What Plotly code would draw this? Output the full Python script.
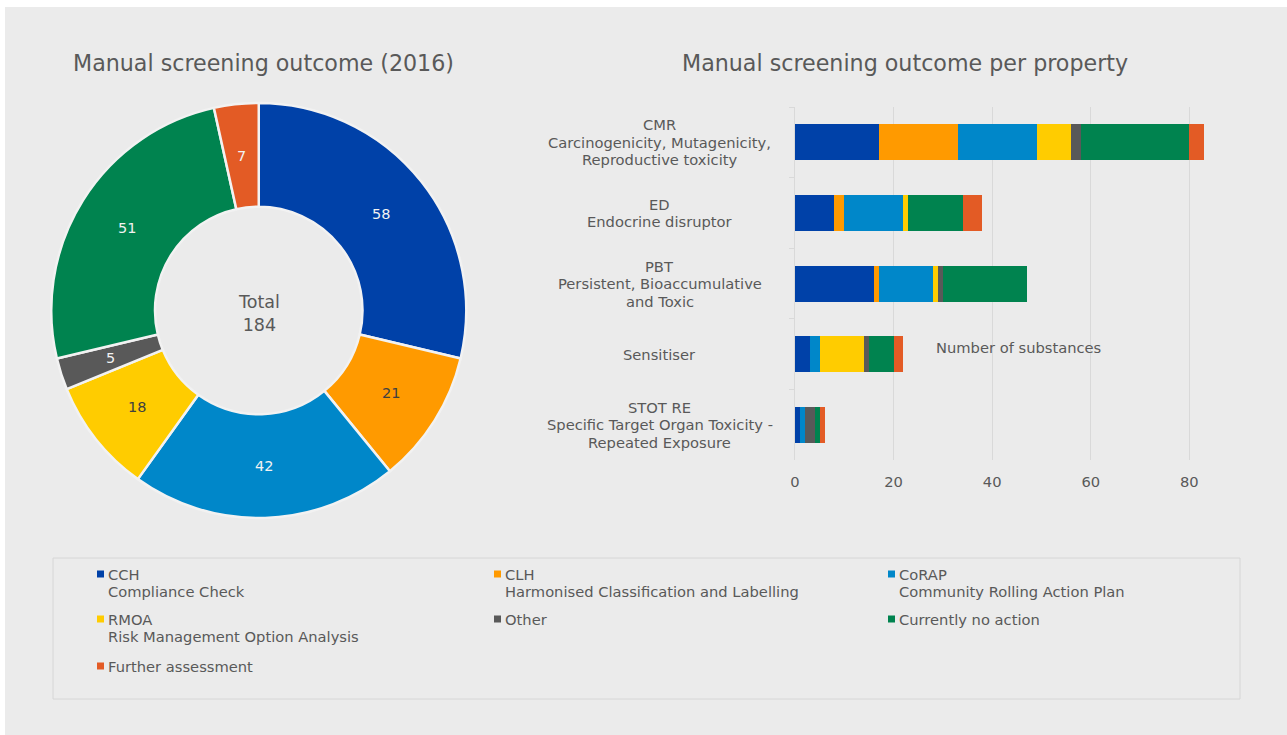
import math
import plotly.graph_objects as go

# Outcome categories (shared by the donut and the stacked bars)
outcome_codes = ["CCH", "CLH", "CoRAP", "RMOA", "Other", "Currently no action", "Further assessment"]
outcome_desc = [
    "Compliance Check",
    "Harmonised Classification and Labelling",
    "Community Rolling Action Plan",
    "Risk Management Option Analysis",
    "",
    "",
    "",
]
outcome_colors = ["#0041A8", "#FF9A00", "#0087C9", "#FFCC00", "#595959", "#00834F", "#E35B25"]

# Donut: overall outcome counts
outcome_totals = [58, 21, 42, 18, 5, 51, 7]
total_label = "Total<br>184"
pie_text_colors = ["#F2F2F2", "#404040", "#F2F2F2", "#404040", "#F2F2F2", "#F2F2F2", "#F2F2F2"]

# Bars: outcome per property
properties = ["CMR", "ED", "PBT", "Sensitiser", "STOT RE"]
property_desc = [
    ["Carcinogenicity, Mutagenicity,", "Reproductive toxicity"],
    ["Endocrine disruptor"],
    ["Persistent, Bioaccumulative", "and Toxic"],
    [],
    ["Specific Target Organ Toxicity -", "Repeated Exposure"],
]
cch = [17, 8, 16, 3, 1]
clh = [16, 2, 1, 0, 0]
corap = [16, 12, 11, 2, 1]
rmoa = [7, 1, 1, 9, 0]
other = [2, 0, 1, 1, 2]
no_action = [22, 11, 17, 5, 1]
further = [3, 4, 0, 2, 1]
bar_series = [cch, clh, corap, rmoa, other, no_action, further]
x_ticks = [0, 20, 40, 60, 80]

W, H = 1287, 735
TXT = "#595959"
FONT = "DejaVu Sans"
SMALL = 14.7
LINE = 17.5

# donut geometry (pixels)
PIE_L, PIE_R, PIE_T, PIE_B = 49, 468.5, 103, 518
HOLE = 0.5


def px(x):
    return x / W


def py(y):
    return 1 - y / H


fig = go.Figure()

fig.add_trace(go.Pie(
    labels=outcome_codes,
    values=outcome_totals,
    hole=HOLE,
    sort=False,
    direction="clockwise",
    rotation=0,
    marker=dict(colors=outcome_colors, line=dict(color="#F2F2F2", width=2.5)),
    textinfo="none",
    domain=dict(x=[px(PIE_L), px(PIE_R)], y=[py(PIE_B), py(PIE_T)]),
    showlegend=False,
    hoverinfo="label+value",
))

for code, vals, col in zip(outcome_codes, bar_series, outcome_colors):
    fig.add_trace(go.Bar(
        y=properties,
        x=vals,
        orientation="h",
        name=code,
        marker=dict(color=col, line=dict(width=0)),
        showlegend=False,
        xaxis="x",
        yaxis="y",
    ))

annotations = [
    dict(text="Manual screening outcome (2016)", x=px(263.5), y=py(63), xref="paper", yref="paper",
         showarrow=False, xanchor="center", yanchor="middle", font=dict(family=FONT, size=22.2, color=TXT)),
    dict(text="Manual screening outcome per property", x=px(904.5), y=py(63), xref="paper", yref="paper",
         showarrow=False, xanchor="center", yanchor="middle", font=dict(family=FONT, size=22.2, color=TXT)),
    dict(text=total_label, x=px(258.7), y=py(313), xref="paper", yref="paper",
         showarrow=False, xanchor="center", yanchor="middle", font=dict(family=FONT, size=17.5, color=TXT)),
    dict(text="Number of substances", x=px(934), y=py(347), xref="paper", yref="paper",
         showarrow=False, xanchor="left", yanchor="middle", font=dict(family=FONT, size=SMALL, color=TXT)),
]

# Slice value labels, centred in the ring at each slice's mid-angle
cx, cy = (PIE_L + PIE_R) / 2, (PIE_T + PIE_B) / 2
radius = min(PIE_R - PIE_L, PIE_B - PIE_T) / 2
r_mid = radius * (1 + HOLE) / 2
grand = sum(outcome_totals)
cum = 0
for v, tc in zip(outcome_totals, pie_text_colors):
    ang = math.radians((cum + v / 2) / grand * 360)
    cum += v
    annotations.append(dict(
        text=str(v), x=px(cx + r_mid * math.sin(ang)), y=py(cy - r_mid * math.cos(ang)),
        xref="paper", yref="paper", showarrow=False, xanchor="center", yanchor="middle",
        font=dict(family=FONT, size=14.5, color=tc),
    ))

# Category labels, centred, one annotation per line
for code, desc in zip(properties, property_desc):
    lines = [code] + desc
    n = len(lines)
    for i, line in enumerate(lines):
        annotations.append(dict(
            text=line, x=px(660), y=code, xref="paper", yref="y",
            yshift=((n - 1) / 2 - i) * LINE,
            showarrow=False, xanchor="center", yanchor="middle", align="center",
            font=dict(family=FONT, size=SMALL, color=TXT),
        ))

shapes = [
    # panel background
    dict(type="rect", xref="paper", yref="paper", x0=px(5), x1=1, y0=0, y1=py(7),
         fillcolor="#EBEBEB", line=dict(width=0), layer="below"),
    # legend frame
    dict(type="rect", xref="paper", yref="paper", x0=px(53), x1=px(1240), y0=py(699), y1=py(558),
         fillcolor="rgba(0,0,0,0)", line=dict(color="#D6D6D6", width=1), layer="below"),
]

# Legend: three columns, row-major
legend_cols = [106, 503, 897]
legend_rows = [574, 619, 666]
for k, (code, desc, col) in enumerate(zip(outcome_codes, outcome_desc, outcome_colors)):
    lx = legend_cols[k % 3]
    ly = legend_rows[k // 3]
    shapes.append(dict(type="rect", xref="paper", yref="paper",
                       x0=px(lx - 9), x1=px(lx - 2), y0=py(ly + 3.5), y1=py(ly - 3.5),
                       fillcolor=col, line=dict(width=0)))
    for j, line in enumerate([code, desc] if desc else [code]):
        annotations.append(dict(
            text=line, x=px(lx), y=py(ly + j * LINE), xref="paper", yref="paper",
            showarrow=False, xanchor="left", yanchor="middle",
            font=dict(family=FONT, size=SMALL, color=TXT),
        ))

fig.update_layout(
    width=W, height=H,
    margin=dict(l=0, r=0, t=0, b=0),
    paper_bgcolor="#FFFFFF",
    plot_bgcolor="rgba(0,0,0,0)",
    font=dict(family=FONT, color=TXT),
    barmode="stack",
    bargap=0.49,
    showlegend=False,
    xaxis=dict(
        domain=[px(795), px(1214)], range=[0, 85], tickvals=x_ticks,
        showgrid=True, gridcolor="#D9D9D9", gridwidth=1, zeroline=False, showline=False,
        ticks="outside", ticklen=8, tickcolor="rgba(0,0,0,0)",
        tickfont=dict(family=FONT, size=SMALL, color=TXT), automargin=False, fixedrange=True,
    ),
    yaxis=dict(
        domain=[py(460), py(107)], categoryorder="array", categoryarray=properties,
        autorange="reversed", showticklabels=False, showgrid=False, zeroline=False,
        showline=True, linecolor="#D9D9D9", linewidth=1,
        ticks="outside", tickson="boundaries", ticklen=5, tickcolor="#D9D9D9",
        automargin=False, fixedrange=True,
    ),
    annotations=annotations,
    shapes=shapes,
)

fig.write_html("out.html")
